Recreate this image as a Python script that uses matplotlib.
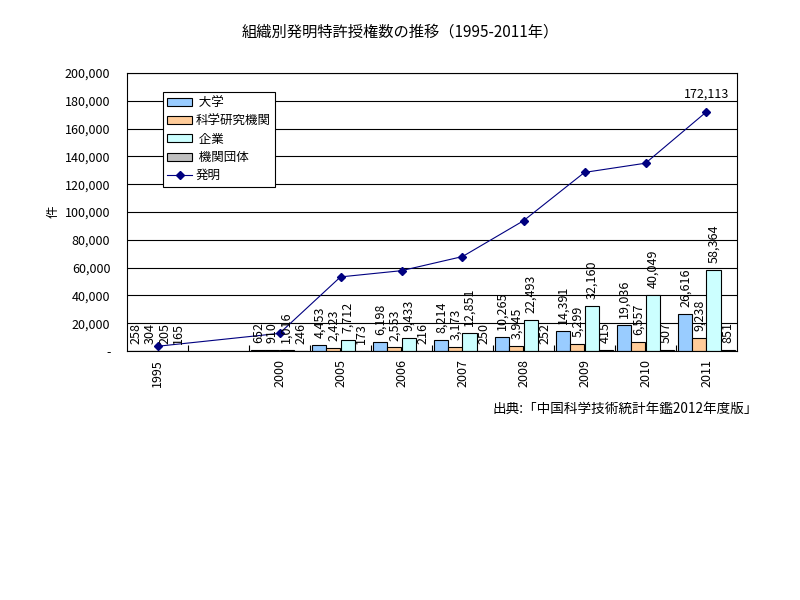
import matplotlib
matplotlib.use('Agg')
import matplotlib.pyplot as plt
from matplotlib.ticker import FuncFormatter, FixedLocator
from matplotlib.patches import Patch
from matplotlib.lines import Line2D

plt.rcParams['font.family'] = ['Noto Sans CJK JP', 'DejaVu Sans']

categories = ['1995', '', '2000', '2005', '2006', '2007', '2008', '2009', '2010', '2011']
years = ['1995', '2000', '2005', '2006', '2007', '2008', '2009', '2010', '2011']

univ = [258, 652, 4453, 6198, 8214, 10265, 14391, 19036, 26616]
research = [304, 910, 2423, 2553, 3173, 3945, 5299, 6557, 9238]
company = [205, 1016, 7712, 9433, 12851, 22493, 32160, 40049, 58364]
org = [165, 246, 173, 216, 250, 252, 415, 507, 851]
invention = [3393, 12683, 53305, 57786, 67948, 93706, 128489, 135110, 172113]

series_names = [' 大学', '科学研究機関', ' 企業', ' 機関団体']
colors = ['#99CCFF', '#FFCC99', '#CCFFFF', '#C0C0C0']


def main():
    fig = plt.figure(figsize=(8, 6), dpi=100)
    ax = fig.add_axes([127 / 800, 1 - 351 / 600, 610 / 800, 278 / 600])

    xpos = [categories.index(y) for y in years]
    width = 0.23
    offsets = [-1.5 * width, -0.5 * width, 0.5 * width, 1.5 * width]

    handles = []
    for vals, name, col, off in zip([univ, research, company, org], series_names, colors, offsets):
        xs = [x + off for x in xpos]
        ax.bar(xs, vals, width=width, color=col, edgecolor='black', linewidth=0.8, zorder=2)
        for x, v in zip(xs, vals):
            ax.annotate(format(v, ','), (x, v), xytext=(0, 5), textcoords='offset points',
                        rotation=90, ha='center', va='bottom', fontsize=9, zorder=4)
        handles.append(Patch(facecolor=col, edgecolor='black', linewidth=0.8, label=name))

    ax.plot(xpos, invention, color='#000080', marker='D', markersize=4, linewidth=0.8, zorder=3)
    handles.append(Line2D([], [], color='#000080', marker='D', markersize=4, linewidth=0.8, label='発明'))
    ax.annotate(format(invention[-1], ','), (xpos[-1], invention[-1]), xytext=(0, 8),
                textcoords='offset points', ha='center', va='bottom', fontsize=9)

    ax.set_xlim(-0.5, len(categories) - 0.5)
    ax.set_ylim(0, 200000)
    ax.set_yticks(range(0, 200001, 20000))
    ax.yaxis.set_major_formatter(FuncFormatter(lambda v, p: '-' if v == 0 else format(int(v), ',')))
    ax.yaxis.grid(True, color='black', linewidth=0.8, zorder=0)
    ax.set_axisbelow(True)
    ax.tick_params(axis='y', length=0, pad=12, labelsize=9)

    ax.set_xticks(range(len(categories)))
    ax.set_xticklabels(categories, rotation=90, fontsize=9)
    ax.tick_params(axis='x', which='major', length=0, pad=6)
    ax.xaxis.set_minor_locator(FixedLocator([i + 0.5 for i in range(len(categories) - 1)]))
    ax.tick_params(axis='x', which='minor', direction='in', length=4, width=0.8)

    for s in ax.spines.values():
        s.set_color('black')
        s.set_linewidth(0.8)

    ax.set_ylabel('件', rotation=90, fontsize=9, labelpad=4)

    leg = ax.legend(handles=handles, loc='upper left', bbox_to_anchor=(0.059, 0.932),
                    fontsize=9, frameon=True, fancybox=False, borderpad=0.35,
                    labelspacing=0.42, handlelength=2.0, handleheight=0.6,
                    handletextpad=0.3, borderaxespad=0)
    leg.get_frame().set_edgecolor('black')
    leg.get_frame().set_linewidth(0.8)
    leg.get_frame().set_alpha(1)

    fig.text(0.5, 1 - 32 / 600, '組織別発明特許授権数の推移（1995-2011年）',
             ha='center', va='center', fontsize=11)
    fig.text(758 / 800, 1 - 409 / 600, '出典:「中国科学技術統計年鑑2012年度版」',
             ha='right', va='center', fontsize=9.8)

    fig.savefig('out.png', dpi=100)


if __name__ == '__main__':
    main()
